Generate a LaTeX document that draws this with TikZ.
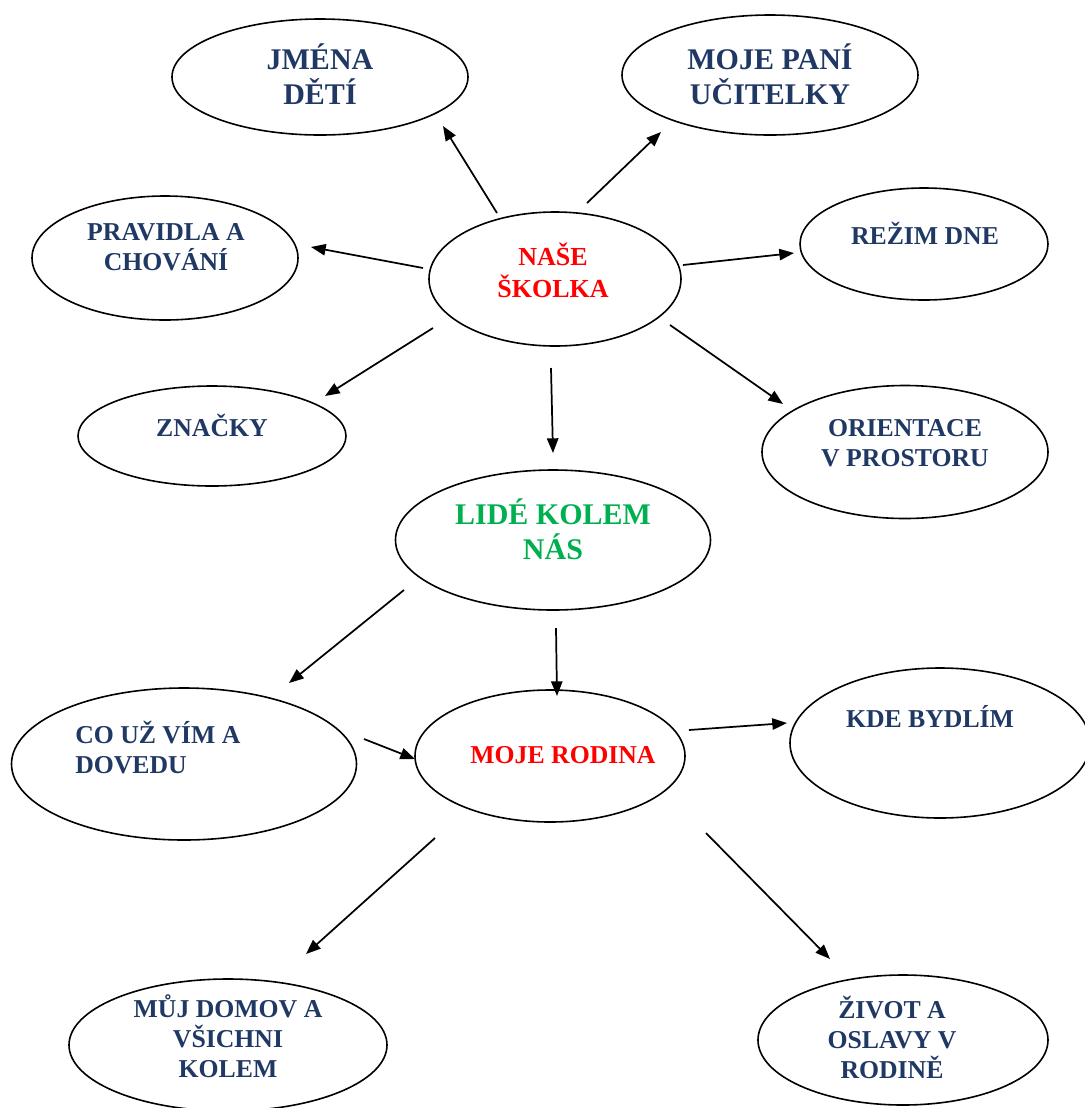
\documentclass[tikz,border=0pt]{standalone}
\usepackage{fontspec}
\setmainfont{Liberation Serif}
\usetikzlibrary{arrows.meta,shapes.geometric}
\definecolor{navy}{HTML}{1F3864}
\definecolor{myred}{HTML}{FF0000}
\definecolor{mygreen}{HTML}{00B050}
\tikzset{
  bub/.style={draw=black, line width=1.2pt, ellipse, inner sep=0pt},
  lbl/.style={font=\bfseries\fontsize{19.3}{22.5}\selectfont, text=navy, align=center, inner sep=0pt},
  big/.style={font=\bfseries\fontsize{22.5}{26}\selectfont},
  arr/.style={line width=1.3pt, -{Triangle[length=11pt,width=8.5pt]}},
  sz/.style 2 args={minimum width=#1*0.75pt, minimum height=#2*0.75pt}
}
\begin{document}
\begin{tikzpicture}[x=0.75pt,y=-0.75pt]
\useasboundingbox (0,0) rectangle (1085,1108);
% ellipses
\node[bub, sz={296}{116}] (jm) at (320,77) {};
\node[bub, sz={296}{120}] (uc) at (770,75) {};
\node[bub, sz={266}{124}] (pr) at (165,258) {};
\node[bub, sz={252}{134}] (sk) at (555,279) {};
\node[bub, sz={248}{112}] (rd) at (924,244) {};
\node[bub, sz={268}{100}] (zn) at (212,436) {};
\node[bub, sz={286}{133}] (or) at (905,452) {};
\node[bub, sz={315}{140}] (li) at (553,540) {};
\node[bub, sz={345}{152}] (co) at (184,764) {};
\node[bub, sz={270}{132}] (ro) at (550,756) {};
\node[bub, sz={300}{150}] (kd) at (940,743) {};
\node[bub, sz={318}{132}] (do) at (228,1045) {};
\node[bub, sz={290}{130}] (zi) at (903,1040) {};
% labels
\node[lbl, big] (tjm) at (320,74) {JMÉNA\\DĚTÍ};
\node[lbl, big] (tuc) at (770,74) {MOJE PANÍ\\UČITELKY};
\node[lbl] (tpr) at (166,247) {PRAVIDLA A\\CHOVÁNÍ};
\node[lbl, text=myred, font=\bfseries\fontsize{19.5}{24}\selectfont] (tsk) at (553,270) {NAŠE\\ŠKOLKA};
\node[lbl] (trd) at (925,233) {REŽIM DNE};
\node[lbl] (tzn) at (212,425) {ZNAČKY};
\node[lbl] (tor) at (905,443) {ORIENTACE\\V PROSTORU};
\node[lbl, big, text=mygreen] (tli) at (553,529) {LIDÉ KOLEM\\NÁS};
\node[lbl, align=left, anchor=west] (tco) at (75,748) {CO UŽ VÍM A\\DOVEDU};
\node[lbl, text=myred] (tro) at (563,755) {MOJE RODINA};
\node[lbl] (tkd) at (930,716) {KDE BYDLÍM};
\node[lbl] (tdo) at (228,1036) {MŮJ DOMOV A\\VŠICHNI\\KOLEM};
\node[lbl] (tzi) at (892,1037) {ŽIVOT A\\OSLAVY V\\RODINĚ};
% arrow end points
\coordinate (a1s) at (497,213); \coordinate (a1e) at (443,126);
\coordinate (a2s) at (587,203); \coordinate (a2e) at (661,132);
\coordinate (a3s) at (423,268); \coordinate (a3e) at (311,247);
\coordinate (a4s) at (683,265); \coordinate (a4e) at (794,253);
\coordinate (a5s) at (433,328); \coordinate (a5e) at (325,396);
\coordinate (a6s) at (670,325); \coordinate (a6e) at (783,404);
\coordinate (a7s) at (551,368); \coordinate (a7e) at (553,453);
\coordinate (a8s) at (404,590); \coordinate (a8e) at (289,683);
\coordinate (a9s) at (556,628); \coordinate (a9e) at (557,696);
\coordinate (a10s) at (364,739); \coordinate (a10e) at (415,759);
\coordinate (a11s) at (689,730); \coordinate (a11e) at (787,723);
\coordinate (a12s) at (435,838); \coordinate (a12e) at (306,954);
\coordinate (a13s) at (706,833); \coordinate (a13e) at (830,959);
\foreach \i in {1,...,13} {\draw[arr] (a\i s) -- (a\i e);}
\end{tikzpicture}
\end{document}
